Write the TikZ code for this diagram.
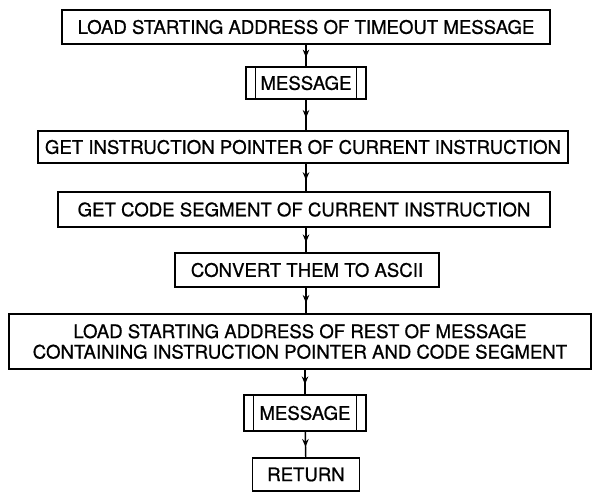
\documentclass[tikz,border=0pt]{standalone}
\usepackage{fontspec}
\setmainfont{TeX Gyre Heros}[FakeBold=0.8]
\usetikzlibrary{decorations.markings,arrows.meta}
\tikzset{
  stepbox/.style={draw, line width=1.6pt, rectangle, inner sep=0pt, align=center,
    font=\fontsize{18.6}{20.5}\selectfont},
  subbox/.style={stepbox, append after command={
    \pgfextra{\draw[line width=1.2pt]
      ([xshift=10pt]\tikzlastnode.north west) -- ([xshift=10pt]\tikzlastnode.south west)
      ([xshift=-10pt]\tikzlastnode.north east) -- ([xshift=-10pt]\tikzlastnode.south east);}}},
  flow/.style={line width=1.4pt, decoration={markings,
    mark=at position 0.6 with {\arrow{Stealth[length=8pt,width=6.5pt]}}}, postaction={decorate}}
}
\begin{document}
\begin{tikzpicture}[x=1pt,y=-1pt]
\useasboundingbox (0,0) rectangle (592,493);
\node[stepbox, minimum width=488pt, minimum height=34pt] (load) at (306,27)
  {LOAD STARTING ADDRESS OF TIMEOUT MESSAGE};
\node[subbox, minimum width=120pt, minimum height=32pt] (msg1) at (306,83) {MESSAGE};
\node[stepbox, minimum width=530pt, minimum height=32pt] (ip) at (303,147)
  {GET INSTRUCTION POINTER OF CURRENT INSTRUCTION};
\node[stepbox, minimum width=492pt, minimum height=35pt] (cs) at (304,209.5)
  {GET CODE SEGMENT OF CURRENT INSTRUCTION};
\node[stepbox, minimum width=264pt, minimum height=34pt] (asc) at (307,270)
  {CONVERT THEM TO ASCII};
\node[stepbox, minimum width=582pt, minimum height=55pt] (rest) at (300,341.5)
  {LOAD STARTING ADDRESS OF REST OF MESSAGE\\CONTAINING INSTRUCTION POINTER AND CODE SEGMENT};
\node[subbox, minimum width=122pt, minimum height=36pt] (msg2) at (305,413) {MESSAGE};
\node[stepbox, minimum width=107pt, minimum height=33pt] (ret) at (306,474.5) {RETURN};
\draw[flow] (load) -- (msg1);
\draw[flow] (msg1) -- (msg1 |- ip.north);
\draw[flow] (msg1 |- ip.south) -- (msg1 |- cs.north);
\draw[flow] (msg1 |- cs.south) -- (msg1 |- asc.north);
\draw[flow] (msg1 |- asc.south) -- (msg1 |- rest.north);
\draw[flow] (msg2 |- rest.south) -- (msg2);
\draw[flow] (msg2) -- (ret);
\end{tikzpicture}
\end{document}
